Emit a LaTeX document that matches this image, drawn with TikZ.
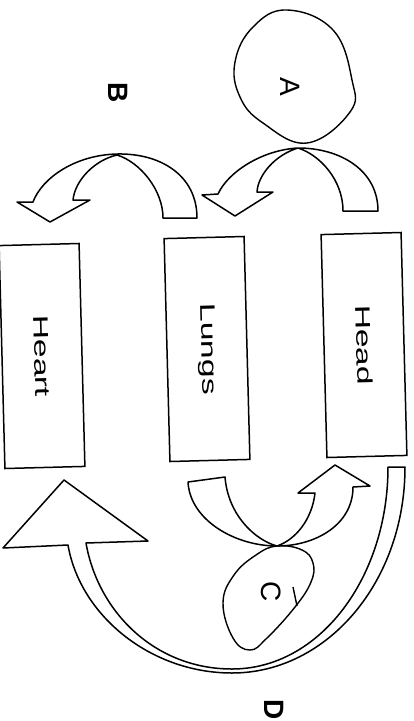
\documentclass[tikz,border=0pt]{standalone}
\usepackage{fontspec}
\setmainfont{Liberation Sans}
\usepackage{graphicx}
\usepackage{tikz}
\tikzstyle{organ} = [rectangle, draw=black, line width=1.5pt, rotate=-88.5, minimum width=223pt, minimum height=80pt, text centered, font=\fontsize{21}{21}\selectfont]
\tikzstyle{letter} = [rotate=-90, inner sep=0pt, font=\fontsize{28}{28}\selectfont]
\tikzstyle{bigarrow} = [draw=black, fill=white, line width=1.5pt, line join=round]
\tikzstyle{blob} = [draw=black, line width=1.4pt]
\newcommand{\stretched}[1]{\scalebox{1.6}[1]{#1}}

\begin{document}
\begin{tikzpicture}[x=1pt, y=-1pt, node distance=165pt]
\useasboundingbox (0,0) rectangle (414,721);

%% NODES

\node (heart) at (42,356) [organ] {\stretched{Heart}};
\node (lungs) [right of=heart, yshift=7pt, organ] {\stretched{Lungs}};
\node (head) [right of=lungs, node distance=157pt, yshift=4pt, organ] {\stretched{Head}};

\node (a_label) at (290,87) [letter] {A};
\node (b_label) at (118,93) [letter] {\bfseries B};
\node (c_label) at (271,592) [letter] {C};
\node (d_label) at (274,710) [letter] {\bfseries D};

%% RINGS

\draw [blob] plot [smooth cycle, tension=0.7] coordinates {(287,10) (333,30) (352,80) (350,112) (307,143) (263,123) (240,97) (235,62) (253,27)};
\draw [blob] plot [smooth cycle, tension=0.7] coordinates {(277,546) (302,550) (313,563) (311,582) (295,607) (267,638) (250,650) (233,638) (223,603) (234,575) (256,555)};
\draw [blob] (293,587) -- (297,606);

%% ARROWS

% A: head -> lungs
\draw [bigarrow] (378,211) .. controls (378,170) and (340,148) .. (298,148)
  .. controls (262,150) and (228,172) .. (218,194) -- (202,195) -- (235,216) -- (273,192) -- (257,192)
  .. controls (258,175) and (275,155) .. (298,148)
  .. controls (320,155) and (343,180) .. (343,211) -- cycle;

% B: lungs -> heart
\draw [bigarrow] (197,218) .. controls (197,175) and (160,153) .. (117,154)
  .. controls (75,155) and (42,178) .. (33,202) -- (17,202) -- (50,222) -- (90,200) -- (73,200)
  .. controls (75,180) and (95,160) .. (117,155)
  .. controls (140,162) and (163,190) .. (163,218) -- cycle;

% C: lungs -> head
\draw [bigarrow] (188,482) .. controls (190,520) and (235,546) .. (277,546)
  .. controls (315,546) and (353,525) .. (353,487) -- (370,486) -- (335,465) -- (298,493) -- (315,493)
  .. controls (312,520) and (295,540) .. (277,546)
  .. controls (255,540) and (228,515) .. (225,477) -- cycle;

% D: head -> heart
\draw [bigarrow] (405,467) .. controls (405,582) and (327,673) .. (232,673)
  .. controls (150,673) and (80,615) .. (68,545) -- (3,548) -- (64,480) -- (148,541) -- (86,543)
  .. controls (98,612) and (155,669) .. (232,669)
  .. controls (320,669) and (388,577) .. (388,467) -- cycle;

\end{tikzpicture}
\end{document}
